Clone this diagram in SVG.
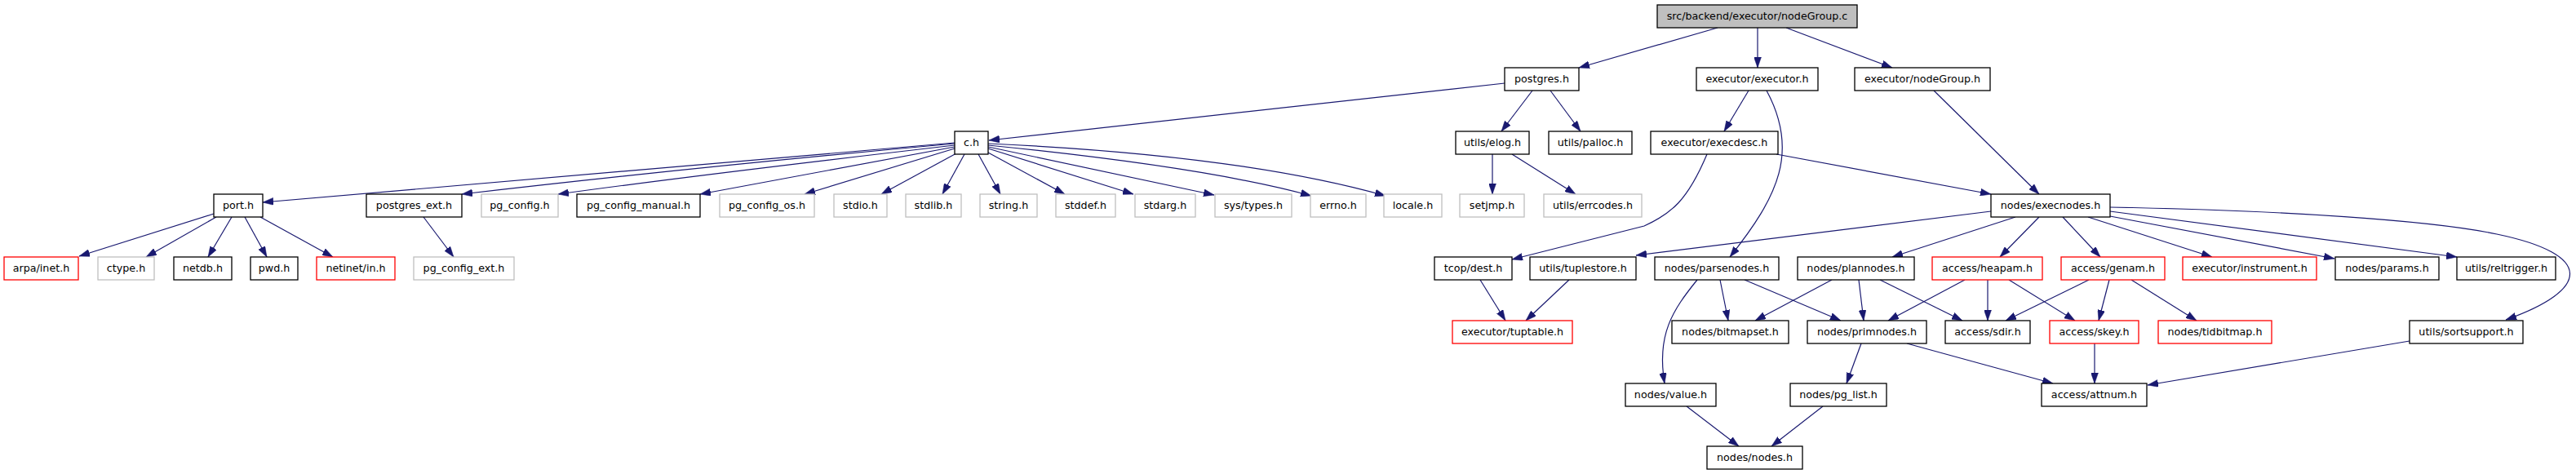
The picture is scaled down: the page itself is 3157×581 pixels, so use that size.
<svg xmlns="http://www.w3.org/2000/svg" width="3157" height="581" viewBox="0 0 3157 581">
<style>
rect{fill:#fff;stroke-width:1.3}
.n rect{stroke:#000}
.g rect{stroke:#bfbfbf}
.r rect{stroke:#ff0000}
#root rect{fill:#bfbfbf;stroke:#000}
text{font-family:"DejaVu Sans",sans-serif;font-size:12.7px;text-anchor:middle;fill:#000}
#edges path{fill:none;stroke:#191970;stroke-width:1.2;marker-end:url(#ah)}
</style>
<defs>
<marker id="ah" markerUnits="userSpaceOnUse" markerWidth="13" markerHeight="9" viewBox="0 0 13 9" refX="13" refY="4.5" orient="auto">
<path d="M0,0 L13,4.5 L0,9 z" fill="#191970" stroke="#191970" stroke-width="0.5"/>
</marker>
</defs>
<rect x="0" y="0" width="3157" height="581" style="fill:#fff;stroke:none"/>
<g id="edges">
<path d="M2105,34 L1935,83"/>
<path d="M2154,34 L2154,83"/>
<path d="M2189,34 L2319,83"/>
<path d="M1844,102 L1212,172"/>
<path d="M1878,111 L1840,161"/>
<path d="M1900,111 L1937,161"/>
<path d="M1829,189 L1829,238"/>
<path d="M1853,189 L1931,238"/>
<path d="M2143,111 L2113,161"/>
<path d="M2165,111 C2205,185 2180,240 2120,315"/>
<path d="M2092,189 C2068,246 2048,262 2015,277 L1853,318"/>
<path d="M2177,189 L2440,238"/>
<path d="M2370,111 L2499,238"/>
<path d="M1170,175 L322,248"/>
<path d="M1170,176 Q850,205 566,238"/>
<path d="M1170,178 Q850,215 684,238"/>
<path d="M1170,180 L858,238"/>
<path d="M1170,182 L986,238"/>
<path d="M1172,188 L1080,238"/>
<path d="M1182,189 L1155,238"/>
<path d="M1199,189 L1226,238"/>
<path d="M1211,187 L1305,238"/>
<path d="M1211,182 L1389,238"/>
<path d="M1211,180 L1488,239"/>
<path d="M1211,178 Q1480,205 1607,240"/>
<path d="M1211,176 Q1520,190 1698,240"/>
<path d="M262,262 L97,314"/>
<path d="M265,266 L179,315"/>
<path d="M284,266 L255,315"/>
<path d="M300,266 L327,315"/>
<path d="M319,266 L408,315"/>
<path d="M519,266 L556,315"/>
<path d="M2440,259 L2005,313"/>
<path d="M2470,266 L2319,315"/>
<path d="M2499,266 L2451,315"/>
<path d="M2528,266 L2574,315"/>
<path d="M2559,266 L2711,315"/>
<path d="M2586,265 L2861,317"/>
<path d="M2586,259 L3011,315"/>
<path d="M2586,254 C2800,258 2980,270 3060,287 C3180,312 3175,355 3071,392"/>
<path d="M1814,343 L1845,393"/>
<path d="M1923,343 L1870,393"/>
<path d="M2080,343 C2050,380 2030,410 2040,470"/>
<path d="M2108,343 L2118,393"/>
<path d="M2138,343 L2256,393"/>
<path d="M2245,343 L2151,393"/>
<path d="M2278,343 L2284,393"/>
<path d="M2304,343 L2405,393"/>
<path d="M2408,343 L2314,393"/>
<path d="M2436,343 L2436,393"/>
<path d="M2462,343 L2543,393"/>
<path d="M2560,343 L2458,393"/>
<path d="M2585,343 L2572,393"/>
<path d="M2612,343 L2692,393"/>
<path d="M2281,421 L2263,470"/>
<path d="M2337,421 L2516,470"/>
<path d="M2567,421 L2567,470"/>
<path d="M2953,418 L2632,472"/>
<path d="M2067,498 L2131,547"/>
<path d="M2234,498 L2171,547"/>
</g>
<g id="root"><rect x="2031" y="6" width="245" height="28"/><text x="2153.5" y="24">src/backend/executor/nodeGroup.c</text></g>
<g id="postgres_h" class="n"><rect x="1844" y="83" width="91" height="28"/><text x="1889.5" y="101">postgres.h</text></g>
<g id="executor_h" class="n"><rect x="2079" y="83" width="149" height="28"/><text x="2153.5" y="101">executor/executor.h</text></g>
<g id="nodeGroup_h" class="n"><rect x="2273" y="83" width="166" height="28"/><text x="2356" y="101">executor/nodeGroup.h</text></g>
<g id="c_h" class="n"><rect x="1170" y="161" width="41" height="28"/><text x="1190.5" y="179">c.h</text></g>
<g id="elog_h" class="n"><rect x="1784" y="161" width="90" height="28"/><text x="1829" y="179">utils/elog.h</text></g>
<g id="palloc_h" class="n"><rect x="1898" y="161" width="102" height="28"/><text x="1949" y="179">utils/palloc.h</text></g>
<g id="execdesc_h" class="n"><rect x="2023" y="161" width="156" height="28"/><text x="2101" y="179">executor/execdesc.h</text></g>
<g id="port_h" class="n"><rect x="262" y="238" width="60" height="28"/><text x="292" y="256">port.h</text></g>
<g id="postgres_ext_h" class="n"><rect x="449" y="238" width="117" height="28"/><text x="507.5" y="256">postgres_ext.h</text></g>
<g id="pg_config_h" class="g"><rect x="590" y="238" width="94" height="28"/><text x="637" y="256">pg_config.h</text></g>
<g id="pg_config_manual_h" class="n"><rect x="707" y="238" width="151" height="28"/><text x="782.5" y="256">pg_config_manual.h</text></g>
<g id="pg_config_os_h" class="g"><rect x="882" y="238" width="116" height="28"/><text x="940" y="256">pg_config_os.h</text></g>
<g id="stdio_h" class="g"><rect x="1022" y="238" width="65" height="28"/><text x="1054.5" y="256">stdio.h</text></g>
<g id="stdlib_h" class="g"><rect x="1110" y="238" width="68" height="28"/><text x="1144" y="256">stdlib.h</text></g>
<g id="string_h" class="g"><rect x="1201" y="238" width="70" height="28"/><text x="1236" y="256">string.h</text></g>
<g id="stddef_h" class="g"><rect x="1294" y="238" width="73" height="28"/><text x="1330.5" y="256">stddef.h</text></g>
<g id="stdarg_h" class="g"><rect x="1391" y="238" width="74" height="28"/><text x="1428" y="256">stdarg.h</text></g>
<g id="sys_types_h" class="g"><rect x="1489" y="238" width="94" height="28"/><text x="1536" y="256">sys/types.h</text></g>
<g id="errno_h" class="g"><rect x="1606" y="238" width="68" height="28"/><text x="1640" y="256">errno.h</text></g>
<g id="locale_h" class="g"><rect x="1696" y="238" width="71" height="28"/><text x="1731.5" y="256">locale.h</text></g>
<g id="setjmp_h" class="g"><rect x="1789" y="238" width="79" height="28"/><text x="1828.5" y="256">setjmp.h</text></g>
<g id="errcodes_h" class="g"><rect x="1892" y="238" width="120" height="28"/><text x="1952" y="256">utils/errcodes.h</text></g>
<g id="execnodes_h" class="n"><rect x="2440" y="238" width="146" height="28"/><text x="2513" y="256">nodes/execnodes.h</text></g>
<g id="arpa_inet_h" class="r"><rect x="5" y="315" width="91" height="28"/><text x="50.5" y="333">arpa/inet.h</text></g>
<g id="ctype_h" class="g"><rect x="120" y="315" width="69" height="28"/><text x="154.5" y="333">ctype.h</text></g>
<g id="netdb_h" class="n"><rect x="213" y="315" width="71" height="28"/><text x="248.5" y="333">netdb.h</text></g>
<g id="pwd_h" class="n"><rect x="307" y="315" width="58" height="28"/><text x="336" y="333">pwd.h</text></g>
<g id="netinet_in_h" class="r"><rect x="388" y="315" width="96" height="28"/><text x="436" y="333">netinet/in.h</text></g>
<g id="pg_config_ext_h" class="g"><rect x="507" y="315" width="123" height="28"/><text x="568.5" y="333">pg_config_ext.h</text></g>
<g id="dest_h" class="n"><rect x="1758" y="315" width="95" height="28"/><text x="1805.5" y="333">tcop/dest.h</text></g>
<g id="tuplestore_h" class="n"><rect x="1875" y="315" width="130" height="28"/><text x="1940" y="333">utils/tuplestore.h</text></g>
<g id="parsenodes_h" class="n"><rect x="2028" y="315" width="152" height="28"/><text x="2104" y="333">nodes/parsenodes.h</text></g>
<g id="plannodes_h" class="n"><rect x="2203" y="315" width="143" height="28"/><text x="2274.5" y="333">nodes/plannodes.h</text></g>
<g id="heapam_h" class="r"><rect x="2368" y="315" width="135" height="28"/><text x="2435.5" y="333">access/heapam.h</text></g>
<g id="genam_h" class="r"><rect x="2526" y="315" width="127" height="28"/><text x="2589.5" y="333">access/genam.h</text></g>
<g id="instrument_h" class="r"><rect x="2675" y="315" width="164" height="28"/><text x="2757" y="333">executor/instrument.h</text></g>
<g id="params_h" class="n"><rect x="2862" y="315" width="127" height="28"/><text x="2925.5" y="333">nodes/params.h</text></g>
<g id="reltrigger_h" class="n"><rect x="3011" y="315" width="121" height="28"/><text x="3071.5" y="333">utils/reltrigger.h</text></g>
<g id="tuptable_h" class="r"><rect x="1780" y="393" width="147" height="28"/><text x="1853.5" y="411">executor/tuptable.h</text></g>
<g id="bitmapset_h" class="n"><rect x="2049" y="393" width="143" height="28"/><text x="2120.5" y="411">nodes/bitmapset.h</text></g>
<g id="primnodes_h" class="n"><rect x="2215" y="393" width="146" height="28"/><text x="2288" y="411">nodes/primnodes.h</text></g>
<g id="sdir_h" class="n"><rect x="2384" y="393" width="104" height="28"/><text x="2436" y="411">access/sdir.h</text></g>
<g id="skey_h" class="r"><rect x="2512" y="393" width="109" height="28"/><text x="2566.5" y="411">access/skey.h</text></g>
<g id="tidbitmap_h" class="r"><rect x="2645" y="393" width="139" height="28"/><text x="2714.5" y="411">nodes/tidbitmap.h</text></g>
<g id="sortsupport_h" class="n"><rect x="2953" y="393" width="139" height="28"/><text x="3022.5" y="411">utils/sortsupport.h</text></g>
<g id="value_h" class="n"><rect x="1992" y="470" width="111" height="28"/><text x="2047.5" y="488">nodes/value.h</text></g>
<g id="pg_list_h" class="n"><rect x="2194" y="470" width="118" height="28"/><text x="2253" y="488">nodes/pg_list.h</text></g>
<g id="attnum_h" class="n"><rect x="2502" y="470" width="129" height="28"/><text x="2566.5" y="488">access/attnum.h</text></g>
<g id="nodes_h" class="n"><rect x="2092" y="547" width="117" height="28"/><text x="2150.5" y="565">nodes/nodes.h</text></g>
</svg>
